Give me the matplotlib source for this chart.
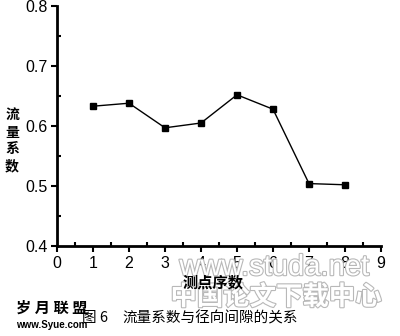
import numpy as np
import matplotlib
matplotlib.use("Agg")
import matplotlib.pyplot as plt
import matplotlib.ticker as ticker
import matplotlib.patheffects as pe

plt.rcParams['font.family'] = ['Liberation Sans', 'Noto Sans CJK SC', 'DejaVu Sans']

# Messpunkte
punkte = [1, 2, 3, 4, 5, 6, 7, 8]
fluss = [0.633, 0.638, 0.597, 0.605, 0.652, 0.628, 0.504, 0.502]

x_ticks = [0, 1, 2, 3, 4, 5, 6, 7, 8, 9]
y_ticks = [0.4, 0.5, 0.6, 0.7, 0.8]

fig = plt.figure(figsize=(4, 3.36), dpi=100)
ax = fig.add_axes([0.1425, 0.268, 0.81, 0.714])

# Wasserzeichen hinten
wm = [pe.withStroke(linewidth=1.6, foreground='#b8b8b8')]
fig.text(0.685, 0.205, 'www.studa.net', fontsize=21, color='white',
         ha='center', va='center', path_effects=wm, zorder=0)
fig.text(0.69, 0.115, '中国论文下载中心', fontsize=19, color='white',
         family=['Noto Sans CJK SC'], fontweight='bold',
         ha='center', va='center', path_effects=wm, zorder=0)

ax.plot(punkte, fluss, color='black', lw=1.0, marker='s', markersize=5,
        markerfacecolor='black', markeredgecolor='black')

ax.set_xlim(0, 9)
ax.set_ylim(0.4, 0.8)
ax.set_xticks(x_ticks)
ax.set_yticks(y_ticks)
ax.set_yticklabels([f'{v:.1f}' for v in y_ticks])
ax.xaxis.set_minor_locator(ticker.MultipleLocator(0.5))
ax.yaxis.set_minor_locator(ticker.MultipleLocator(0.05))
ax.tick_params(which='major', direction='out', length=4, width=1.5, labelsize=11.5, pad=3)
ax.tick_params(which='minor', direction='in', length=3, width=1.5)
ax.spines['top'].set_visible(False)
ax.spines['right'].set_visible(False)
ax.spines['left'].set_linewidth(2)
ax.spines['bottom'].set_linewidth(2)
ax.patch.set_alpha(0)

# Achsenbeschriftungen
fig.text(0.03, 0.58, '流\n量\n系\n数', fontsize=10, family=['Noto Sans CJK SC'],
         fontweight='bold', ha='center', va='center', linespacing=1.25)
fig.text(0.533, 0.16, '测点序数', fontsize=11, family=['Noto Sans CJK SC'],
         fontweight='bold', ha='center', va='center')

# Bildunterschrift
fig.text(0.205, 0.053, '图 6', fontsize=10.5, family=['Noto Sans CJK SC'],
         ha='left', va='center')
fig.text(0.305, 0.053, '流量系数与径向间隙的关系', fontsize=10.5,
         family=['Noto Sans CJK SC'], ha='left', va='center')

# Wasserzeichen links unten
fig.text(0.04, 0.083, '岁 月 联 盟', fontsize=11, family=['Noto Sans CJK SC'],
         fontweight='bold', ha='left', va='center')
fig.text(0.04, 0.032, 'www.Syue.com', fontsize=7, fontweight='bold',
         ha='left', va='center')

plt.savefig('out.png', dpi=100)
